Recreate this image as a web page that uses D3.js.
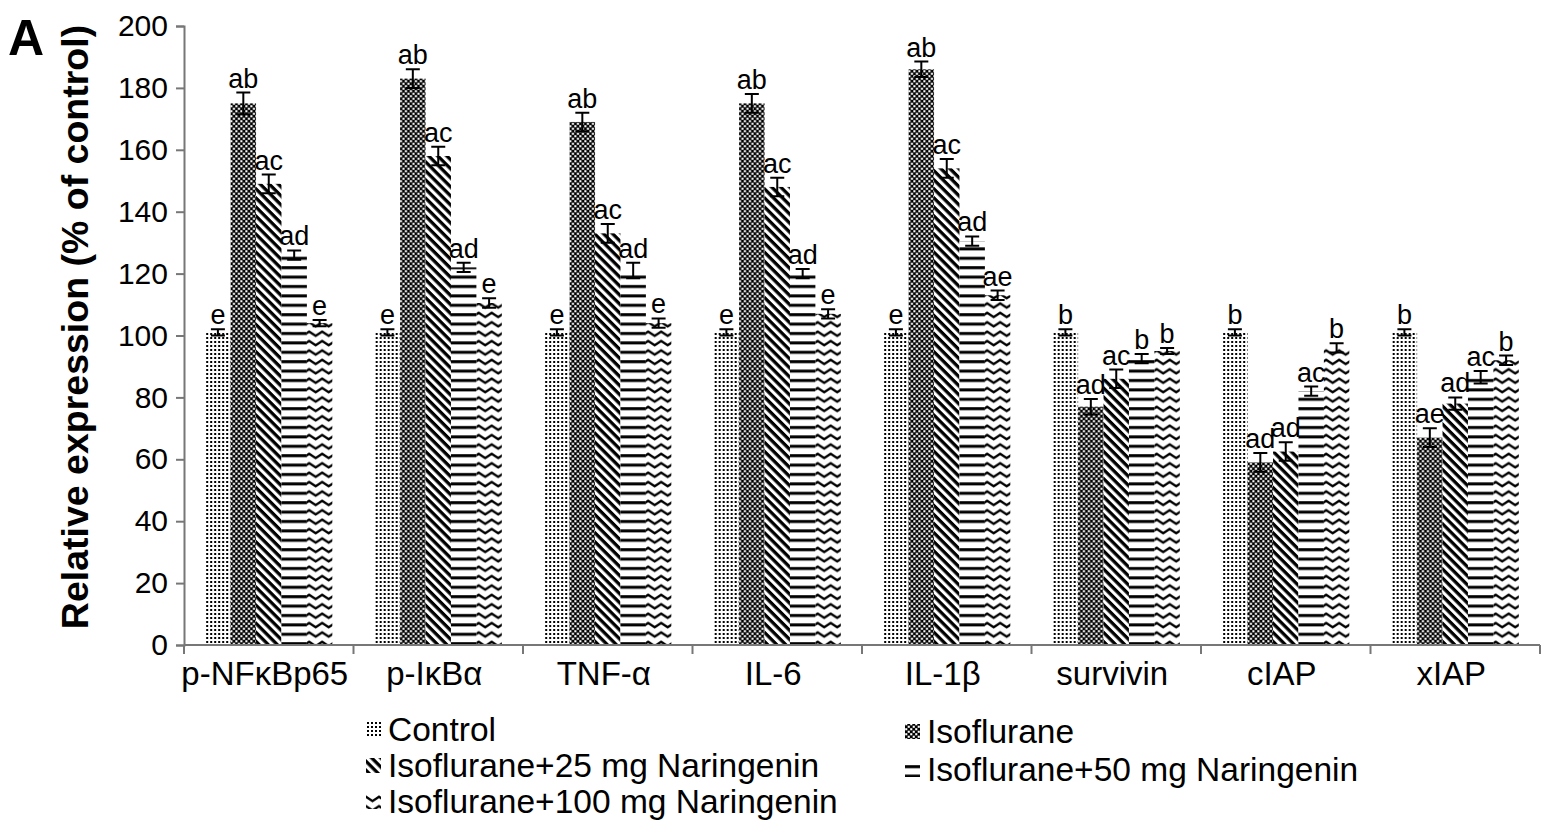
<!DOCTYPE html>
<html>
<head>
<meta charset="utf-8">
<script src="https://cdn.jsdelivr.net/npm/d3@7"></script>
<style>
  html, body { margin: 0; padding: 0; background: #fff; }
  svg { display: block; }
  text { font-family: Arial, "Liberation Sans", Helvetica, sans-serif; }
</style>
</head>
<body>
<svg id="chart" width="1559" height="836"></svg>
<script>
const categories = ["p-NFκBp65", "p-IκBα", "TNF-α", "IL-6", "IL-1β", "survivin", "cIAP", "xIAP"];
const seriesNames = ["Control", "Isoflurane", "Isoflurane+25 mg Naringenin", "Isoflurane+50 mg Naringenin", "Isoflurane+100 mg Naringenin"];
const controlVals = [101, 101, 101, 101, 101, 101, 101, 101];
const isoVals     = [175, 183, 169, 175, 186, 77, 59, 67];
const nar25Vals   = [149, 158, 133, 148, 154, 86, 62.5, 78];
const nar50Vals   = [126, 122, 121, 120, 130.5, 92.5, 82, 86.5];
const nar100Vals  = [104, 110.5, 104, 107, 113, 95, 96, 92];
const controlErr  = [1, 1, 1, 1, 1, 1, 1, 1];
const isoErr      = [3.5, 3, 3, 3, 2.5, 2.5, 3, 3];
const nar25Err    = [3, 3, 3, 3, 3, 3, 3, 2];
const nar50Err    = [1.5, 1.5, 2.5, 1.5, 1.5, 1.5, 1.5, 2];
const nar100Err   = [1, 1.5, 1.5, 1.5, 1.5, 1, 1.5, 1.5];
const controlLbl  = ["e", "e", "e", "e", "e", "b", "b", "b"];
const isoLbl      = ["ab", "ab", "ab", "ab", "ab", "ad", "ad", "ae"];
const nar25Lbl    = ["ac", "ac", "ac", "ac", "ac", "ac", "ad", "ad"];
const nar50Lbl    = ["ad", "ad", "ad", "ad", "ad", "b", "ac", "ac"];
const nar100Lbl   = ["e", "e", "e", "e", "ae", "b", "b", "b"];
const yTicks = [0, 20, 40, 60, 80, 100, 120, 140, 160, 180, 200];

const valueSets = [controlVals, isoVals, nar25Vals, nar50Vals, nar100Vals];
const errSets = [controlErr, isoErr, nar25Err, nar50Err, nar100Err];
const lblSets = [controlLbl, isoLbl, nar25Lbl, nar50Lbl, nar100Lbl];

const svg = d3.select("#chart");
const defs = svg.append("defs");

// Patterns
const pCtrl = defs.append("pattern").attr("id", "p0").attr("patternUnits", "userSpaceOnUse").attr("width", 4).attr("height", 4);
pCtrl.append("rect").attr("width", 4).attr("height", 4).attr("fill", "#fff");
pCtrl.append("rect").attr("x", 1).attr("y", 1).attr("width", 2).attr("height", 2).attr("fill", "#000");

const pIso = defs.append("pattern").attr("id", "p1").attr("patternUnits", "userSpaceOnUse").attr("width", 5).attr("height", 5);
pIso.append("rect").attr("width", 5).attr("height", 5).attr("fill", "#000");
pIso.append("rect").attr("x", 0.2).attr("y", 0.2).attr("width", 2.1).attr("height", 2.1).attr("fill", "#fff");
pIso.append("rect").attr("x", 2.7).attr("y", 2.7).attr("width", 2.1).attr("height", 2.1).attr("fill", "#fff");

const p25 = defs.append("pattern").attr("id", "p2").attr("patternUnits", "userSpaceOnUse")
  .attr("width", 12).attr("height", 6.4).attr("patternTransform", "rotate(45)");
p25.append("rect").attr("width", 12).attr("height", 6.4).attr("fill", "#fff");
p25.append("rect").attr("y", 0).attr("width", 12).attr("height", 3.3).attr("fill", "#000");

const p50 = defs.append("pattern").attr("id", "p3").attr("patternUnits", "userSpaceOnUse").attr("width", 10).attr("height", 9.4);
p50.append("rect").attr("width", 10).attr("height", 9.4).attr("fill", "#fff");
p50.append("rect").attr("y", 3).attr("width", 10).attr("height", 3).attr("fill", "#000");

const p100 = defs.append("pattern").attr("id", "p4").attr("patternUnits", "userSpaceOnUse").attr("width", 13).attr("height", 9.4);
p100.append("rect").attr("width", 13).attr("height", 9.4).attr("fill", "#fff");
p100.append("path").attr("d", "M-6.5,6.8 L0,2.6 L6.5,6.8 L13,2.6 L19.5,6.8")
  .attr("fill", "none").attr("stroke", "#000").attr("stroke-width", 2.2);

const plotLeft = 184, plotRight = 1540, plotTop = 26, plotBottom = 645;

const y = d3.scaleLinear().domain([0, 200]).range([plotBottom, plotTop]);
const x0 = d3.scaleBand().domain(categories).range([plotLeft, plotRight]).paddingInner(0.25).paddingOuter(0.125);
const x1 = d3.scaleBand().domain(d3.range(seriesNames.length)).range([0, x0.bandwidth()]);

// Bars
const groups = svg.append("g").selectAll("g").data(categories).join("g")
  .attr("transform", d => `translate(${x0(d)},0)`);

groups.each(function(cat, ci) {
  const g = d3.select(this);
  seriesNames.forEach((s, si) => {
    const v = valueSets[si][ci];
    g.append("rect")
      .attr("x", x1(si))
      .attr("y", y(v))
      .attr("width", x1.bandwidth())
      .attr("height", y(0) - y(v))
      .attr("fill", `url(#p${si})`);
  });
  seriesNames.forEach((s, si) => {
    const v = valueSets[si][ci], e = errSets[si][ci];
    const cx = x1(si) + x1.bandwidth() / 2;
    const cw = 7;
    g.append("path")
      .attr("d", `M${cx - cw},${y(v + e)}H${cx + cw}M${cx},${y(v + e)}V${y(v - e)}M${cx - cw},${y(v - e)}H${cx + cw}`)
      .attr("stroke", "#000").attr("stroke-width", 2).attr("fill", "none");
    g.append("text")
      .attr("x", cx)
      .attr("y", y(v + e) - 5)
      .attr("text-anchor", "middle")
      .attr("font-size", 27)
      .attr("fill", "#000")
      .text(lblSets[si][ci]);
  });
});

// Y axis
const yAxis = svg.append("g").attr("transform", `translate(${plotLeft},0)`)
  .call(d3.axisLeft(y).tickValues(yTicks).tickSize(8).tickPadding(8));
yAxis.select(".domain").attr("stroke", "#777").attr("stroke-width", 2);
yAxis.selectAll(".tick line").attr("stroke", "#777").attr("stroke-width", 2);
yAxis.selectAll(".tick text").attr("font-size", 30).attr("fill", "#000")
  .style("font-family", "Arial, 'Liberation Sans', sans-serif");

// X axis
const xAxisG = svg.append("g").attr("transform", `translate(0,${plotBottom})`);
xAxisG.append("line").attr("x1", plotLeft).attr("x2", plotRight).attr("y1", 0).attr("y2", 0)
  .attr("stroke", "#777").attr("stroke-width", 2);
const boundaries = d3.range(categories.length + 1).map(i => plotLeft + i * x0.step());
xAxisG.selectAll("line.bt").data(boundaries).join("line").attr("class", "bt")
  .attr("x1", d => d).attr("x2", d => d).attr("y1", 0).attr("y2", 9)
  .attr("stroke", "#777").attr("stroke-width", 2);
xAxisG.selectAll("text").data(categories).join("text")
  .attr("x", d => x0(d) + x0.bandwidth() / 2 - 4)
  .attr("y", 40)
  .attr("text-anchor", "middle")
  .attr("font-size", 33)
  .attr("fill", "#000")
  .text(d => d);

// Y title
svg.append("text")
  .attr("transform", `translate(88,327) rotate(-90)`)
  .attr("text-anchor", "middle")
  .attr("font-size", 37.5)
  .attr("font-weight", "bold")
  .attr("fill", "#000")
  .text("Relative expression (% of control)");

// Panel letter
svg.append("text").attr("x", 8).attr("y", 55)
  .attr("font-size", 50).attr("font-weight", "bold").attr("fill", "#000").text("A");

// Legend
const legendPos = [
  {x: 366, y: 741},
  {x: 905, y: 743},
  {x: 366, y: 777},
  {x: 905, y: 781},
  {x: 366, y: 813}
];
const leg = svg.append("g").selectAll("g").data(seriesNames).join("g")
  .attr("transform", (d, i) => `translate(${legendPos[i].x},${legendPos[i].y})`);
leg.append("rect").attr("x", 0).attr("y", -19).attr("width", 15).attr("height", 15)
  .attr("fill", (d, i) => `url(#p${i})`);
leg.append("text").attr("x", 22).attr("y", 0).attr("font-size", 33.5).attr("fill", "#000").text(d => d);
</script>
</body>
</html>
